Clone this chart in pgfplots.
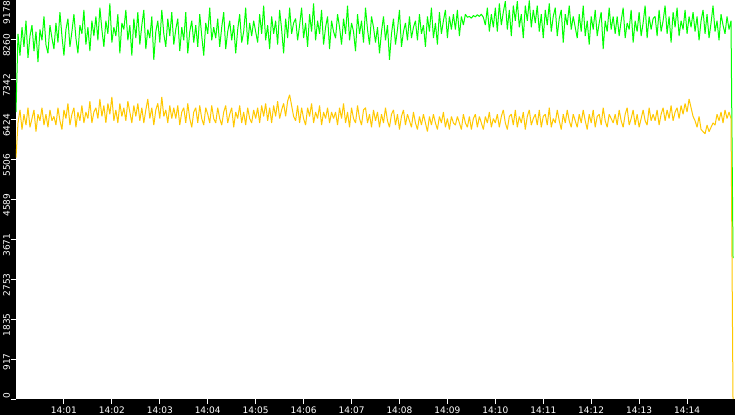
\documentclass[border=0pt]{standalone}
\usepackage{fontspec}
\usepackage{graphicx}
\usepackage{pgfplots}
\usepackage{pgfplotstable}
\pgfplotsset{compat=1.18}
\newfontfamily\lblfont{DejaVu Sans}
\definecolor{lgreen}{RGB}{0,255,0}
\definecolor{lyellow}{RGB}{255,200,0}

\pgfplotstableread[row sep=\\,header=false]{
6600\\8400\\7900\\8550\\8100\\8700\\7850\\8350\\8600\\8000\\8450\\7750\\8500\\8250\\8800\\8150\\7950\\8600\\8300\\8050\\
8650\\8200\\8900\\8350\\7900\\8500\\8750\\8100\\8450\\8850\\8300\\7950\\8600\\8400\\8950\\8150\\8550\\8000\\8700\\8350\\
8800\\8250\\9000\\8500\\8100\\8700\\8400\\9100\\8200\\8550\\8350\\8850\\7950\\8650\\8500\\8950\\8250\\8600\\7900\\8750\\
8300\\8900\\8150\\8600\\8950\\8050\\8500\\8300\\8800\\7800\\8450\\8700\\8200\\8950\\8400\\8100\\8750\\8350\\8900\\8150\\
8500\\8750\\8000\\8550\\8250\\8900\\7950\\8450\\8700\\8200\\8600\\8100\\8850\\8350\\7900\\8650\\8400\\9000\\8250\\8550\\
8300\\8750\\8100\\8550\\8900\\8050\\8450\\8700\\8250\\8600\\7950\\8500\\8850\\8200\\8450\\9000\\8150\\8650\\8350\\8700\\
8450\\8200\\8850\\8400\\9050\\8250\\8600\\8050\\8800\\8400\\8700\\8150\\8950\\8500\\7950\\8750\\8300\\9000\\8400\\8650\\
8750\\8250\\8600\\9000\\8300\\8650\\8100\\8850\\8450\\9100\\8250\\8700\\8400\\8950\\8150\\8550\\8800\\8050\\8700\\8450\\
8300\\8850\\8550\\8150\\8750\\8400\\9050\\8250\\8650\\8450\\8000\\8850\\8400\\8700\\8200\\9000\\8500\\8150\\8800\\8550\\
8200\\8550\\7950\\8450\\8800\\8250\\8600\\7800\\8400\\8750\\8150\\8500\\8950\\8100\\8450\\8650\\8250\\8800\\8300\\8550\\
8700\\8250\\8850\\8400\\8600\\8100\\8800\\8450\\9000\\8300\\8650\\8150\\8900\\8400\\8700\\8950\\8300\\8800\\8500\\8850\\
8500\\8950\\8350\\8800\\8600\\8850\\8780\\8800\\8760\\8820\\8790\\8840\\8800\\8850\\8780\\8600\\9000\\8450\\8850\\8550\\
9000\\8450\\9100\\8600\\8900\\9150\\8500\\8950\\8350\\9050\\8700\\9150\\8550\\8850\\8300\\9050\\8700\\9170\\8550\\8950\\
8650\\9050\\8450\\8850\\8300\\8950\\8600\\9100\\8450\\8800\\9000\\8350\\8750\\8950\\8200\\8850\\8600\\9050\\8500\\8800\\
8550\\8300\\8850\\8450\\9050\\8350\\8700\\8150\\8800\\8500\\8950\\8350\\8650\\8900\\8050\\8700\\8450\\9000\\8500\\8800\\
8400\\8800\\8350\\8700\\9000\\8300\\8650\\8500\\8950\\8200\\8700\\8450\\8900\\8350\\8650\\9050\\8300\\8800\\8500\\8750\\
8800\\8350\\8950\\8450\\8700\\9050\\8400\\8800\\8200\\8900\\8550\\9000\\8350\\8700\\8500\\8950\\8400\\8800\\8550\\8900\\
8450\\8800\\8250\\8700\\8950\\8400\\8850\\8300\\8650\\9050\\8450\\8700\\8250\\8850\\8600\\8400\\8800\\8500\\8700\\3240\\
}\greendata

\pgfplotstableread[row sep=\\,header=false]{
5550\\6350\\6650\\6200\\6550\\6300\\6700\\6250\\6450\\6650\\6150\\6550\\6400\\6700\\6300\\6550\\6250\\6650\\6400\\6500\\
6300\\6700\\6400\\6200\\6650\\6450\\6800\\6300\\6550\\6700\\6250\\6600\\6400\\6750\\6350\\6600\\6450\\6850\\6350\\6600\\
6700\\6450\\6900\\6500\\6750\\6350\\6800\\6550\\6950\\6400\\6650\\6350\\6800\\6500\\6700\\6400\\6850\\6600\\6350\\6750\\
6500\\6800\\6400\\6700\\6350\\6650\\6900\\6450\\6700\\6300\\6650\\6800\\6450\\6950\\6500\\6650\\6350\\6750\\6450\\6700\\
6450\\6750\\6300\\6600\\6700\\6350\\6800\\6450\\6250\\6600\\6700\\6350\\6750\\6450\\6300\\6700\\6550\\6350\\6750\\6450\\
6350\\6700\\6450\\6300\\6600\\6750\\6350\\6550\\6700\\6250\\6600\\6450\\6750\\6350\\6600\\6300\\6700\\6450\\6350\\6650\\
6450\\6700\\6350\\6750\\6500\\6800\\6400\\6700\\6350\\6750\\6500\\6850\\6450\\6650\\6800\\6500\\6850\\7000\\6750\\6500\\
6400\\6750\\6350\\6700\\6450\\6300\\6700\\6500\\6800\\6350\\6600\\6450\\6750\\6300\\6600\\6450\\6700\\6350\\6600\\6450\\
6600\\6300\\6700\\6450\\6800\\6350\\6600\\6250\\6700\\6450\\6350\\6750\\6450\\6300\\6650\\6700\\6350\\6550\\6250\\6650\\
6400\\6600\\6250\\6550\\6350\\6700\\6400\\6250\\6550\\6650\\6300\\6550\\6200\\6500\\6650\\6300\\6550\\6400\\6250\\6600\\
6350\\6200\\6500\\6300\\6550\\6350\\6150\\6500\\6300\\6550\\6350\\6200\\6500\\6350\\6600\\6250\\6450\\6200\\6500\\6350\\
6300\\6500\\6350\\6200\\6550\\6350\\6250\\6500\\6200\\6450\\6550\\6250\\6500\\6350\\6200\\6500\\6350\\6600\\6250\\6450\\
6350\\6550\\6250\\6500\\6650\\6350\\6200\\6500\\6550\\6300\\6650\\6250\\6500\\6350\\6600\\6200\\6500\\6650\\6300\\6450\\
6550\\6300\\6650\\6250\\6500\\6550\\6300\\6700\\6250\\6450\\6350\\6650\\6400\\6200\\6550\\6350\\6650\\6400\\6250\\6550\\
6400\\6250\\6550\\6350\\6650\\6400\\6200\\6550\\6350\\6650\\6250\\6500\\6550\\6300\\6700\\6400\\6250\\6550\\6450\\6350\\
6550\\6300\\6650\\6400\\6250\\6550\\6700\\6300\\6450\\6650\\6300\\6550\\6250\\6450\\6650\\6400\\6300\\6700\\6400\\6550\\
6400\\6650\\6300\\6550\\6700\\6400\\6650\\6450\\6750\\6400\\6600\\6700\\6450\\6750\\6550\\6800\\6600\\6900\\6700\\6500\\
6400\\6250\\6500\\6200\\6150\\6100\\6300\\6150\\6250\\6350\\6300\\6550\\6400\\6600\\6350\\6650\\6450\\6600\\6450\\0\\
}\yellowdata

\begin{document}
\begin{tikzpicture}
\fill[black] (-16pt,-16pt) rectangle (719pt,399pt);
\begin{axis}[
  at={(0pt,0pt)}, anchor=south west,
  scale only axis, width=719pt, height=399pt,
  xmin=0, xmax=15, ymin=0, ymax=9178,
  axis background/.style={fill=white},
  axis line style={draw=none},
  tick align=outside, xtick pos=bottom, ytick pos=left,
  major tick length=5pt,
  tick style={white, line width=1pt},
  xtick={1,2,3,4,5,6,7,8,9,10,11,12,13,14},
  xticklabels={14:01,14:02,14:03,14:04,14:05,14:06,14:07,14:08,14:09,14:10,14:11,14:12,14:13,14:14},
  ytick={0,917.8,1835.6,2753.4,3671.2,4589,5506.8,6424.6,7342.4,8260.2},
  yticklabels={\rotatebox{90}{0},\rotatebox{90}{917},\rotatebox{90}{1835},\rotatebox{90}{2753},\rotatebox{90}{3671},\rotatebox{90}{4589},\rotatebox{90}{5506},\rotatebox{90}{6424},\rotatebox{90}{7342},\rotatebox{90}{8260}},
  extra y ticks={9178},
  extra y tick labels={\rotatebox{90}{9178}},
  extra y tick style={yticklabel style={yshift=-7pt}},
  xticklabel style={text=white, font=\lblfont\fontsize{9}{10}\selectfont, inner sep=0pt, anchor=north, yshift=-3pt},
  yticklabel style={text=white, font=\lblfont\fontsize{9}{10}\selectfont, inner sep=0pt, anchor=north, xshift=-4.5pt, yshift=6pt},
  clip=true,
]
\addplot[lgreen, line width=1pt, line join=bevel] table[x expr=\coordindex*0.0416667, y index=0] {\greendata};
\addplot[lyellow, line width=1pt, line join=bevel] table[x expr=\coordindex*0.0416667, y index=0] {\yellowdata};
\end{axis}
\pgfresetboundingbox
\useasboundingbox (-16pt,-16pt) rectangle (719pt,399pt);
\end{tikzpicture}
\end{document}
